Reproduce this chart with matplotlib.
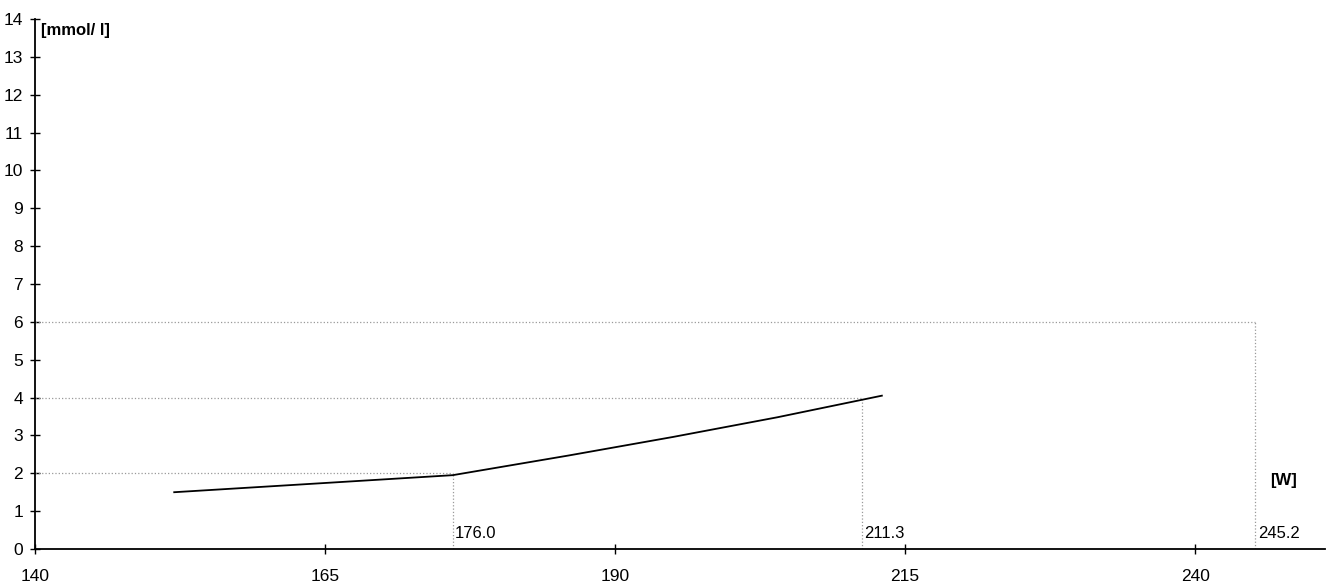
import matplotlib.pyplot as plt

plt.rcParams['font.family'] = ['Liberation Sans Narrow', 'Liberation Sans', 'DejaVu Sans']

# lactate curve
power = [152.0, 176.0, 186.0, 195.0, 204.0, 213.0]  # W
lactate = [1.5, 1.95, 2.47, 2.96, 3.48, 4.05]  # mmol/l

# threshold markers
thr_power = [176.0, 211.3, 245.2]
thr_lactate = [2, 4, 6]
thr_labels = ['176.0', '211.3', '245.2']

xticks = [140, 165, 190, 215, 240]
yticks = list(range(0, 15))

fig = plt.figure(figsize=(13.3, 5.86), dpi=100)
ax = fig.add_axes([35 / 1330, 37 / 586, 1290 / 1330, 530 / 586])

for xv, yv, lab in zip(thr_power, thr_lactate, thr_labels):
    ax.plot([140, xv], [yv, yv], ls=':', c='#999999', lw=0.9)
    ax.plot([xv, xv], [0, yv], ls=':', c='#999999', lw=0.9)
    ax.text(xv + 0.2, 0.22, lab, fontsize=12, ha='left', va='bottom')

ax.plot(power, lactate, c='black', lw=1.3)

ax.set_xlim(140, 251.2)
ax.set_ylim(0, 14)
ax.set_xticks(xticks)
ax.set_yticks(yticks)
ax.tick_params(direction='inout', length=7, width=1, labelsize=12.5)
ax.tick_params(axis='x', pad=11)
ax.tick_params(axis='y', pad=5)
for s in ['top', 'right']:
    ax.spines[s].set_visible(False)
ax.spines['left'].set_linewidth(1.3)
ax.spines['bottom'].set_linewidth(1.3)

ax.text(140.5, 13.9, '[mmol/ l]', fontsize=12, fontweight='bold', ha='left', va='top')
ax.text(246.5, 1.8, '[W]', fontsize=12, fontweight='bold', ha='left', va='center')

fig.savefig('out.png', dpi=100)
